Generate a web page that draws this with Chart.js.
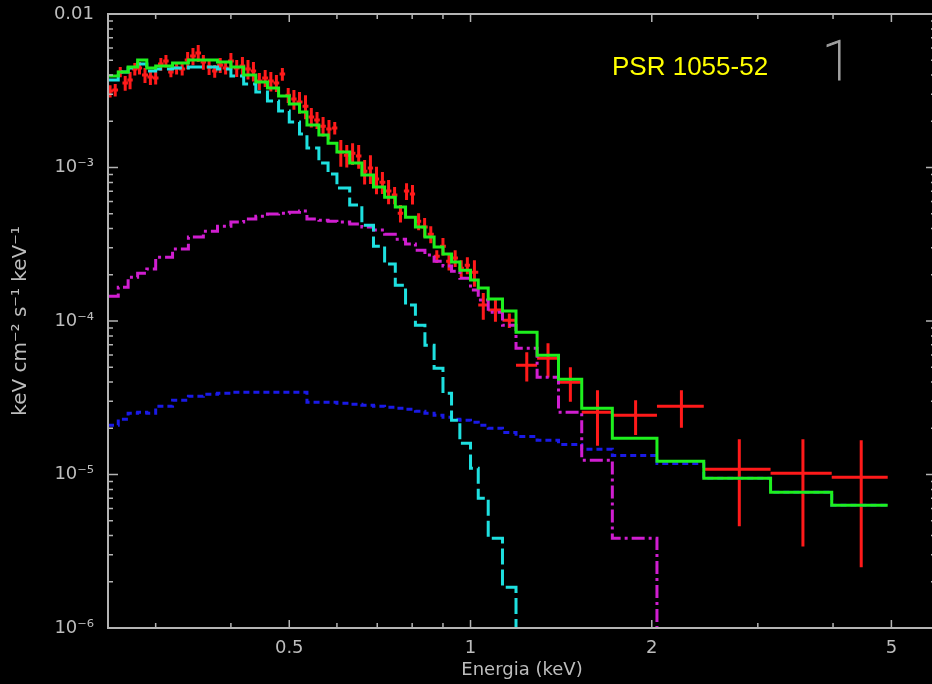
<!DOCTYPE html>
<html>
<head>
<meta charset="utf-8">
<title>PSR 1055-52</title>
<script src="https://cdn.jsdelivr.net/npm/chart.js@4.4.1/dist/chart.umd.min.js"></script>
<style>
    html, body { margin: 0; padding: 0; background: #000; overflow: hidden; }
    #wrap { width: 940px; height: 684px; }
    canvas { background: #000; }
</style>
</head>
<body>
<div id="wrap"><canvas id="spectrum" width="940" height="684"></canvas></div>
<script>
// PSR 1055-52 spectrum: data (red crosses) + model components, keV cm^-2 s^-1 keV^-1

// Data bins: centre energy (keV), half width, flux, 1-sigma error
const dataEnergy = [
    0.252, 0.257, 0.262, 0.267, 0.272, 0.277, 0.282, 0.288, 0.294, 0.300,
    0.306, 0.312, 0.318, 0.325, 0.332, 0.339, 0.346, 0.353, 0.360, 0.368,
    0.376, 0.384, 0.392, 0.400, 0.409, 0.418, 0.427, 0.436, 0.446, 0.456,
    0.466, 0.476, 0.487, 0.498, 0.509, 0.520, 0.532, 0.544, 0.556, 0.569,
    0.582, 0.595, 0.609, 0.623, 0.637, 0.652, 0.667, 0.682, 0.698, 0.714,
    0.731, 0.748, 0.765, 0.783, 0.801, 0.820, 0.839, 0.859, 0.879, 0.900,
    0.921, 0.943, 0.965, 0.988, 1.015, 1.05, 1.10, 1.16, 1.24, 1.345,
    1.465, 1.625, 1.88, 2.24, 2.795, 3.565, 4.455
];
const dataHalfWidth = [
    0.0028, 0.0028, 0.0028, 0.0028, 0.0028, 0.0028, 0.0028, 0.0033, 0.0033, 0.0033,
    0.0033, 0.0033, 0.0033, 0.0033, 0.0038, 0.0038, 0.0038, 0.0038, 0.0038, 0.0038,
    0.0038, 0.0045, 0.0045, 0.0045, 0.0045, 0.0045, 0.0045, 0.0045, 0.0052, 0.0052,
    0.0052, 0.0052, 0.0052, 0.0052, 0.0052, 0.006, 0.006, 0.006, 0.006, 0.006,
    0.006, 0.006, 0.007, 0.007, 0.007, 0.007, 0.007, 0.007, 0.007, 0.008,
    0.008, 0.008, 0.008, 0.008, 0.008, 0.008, 0.010, 0.010, 0.010, 0.010,
    0.010, 0.010, 0.010, 0.010, 0.015, 0.02, 0.03, 0.03, 0.05, 0.055,
    0.065, 0.095, 0.16, 0.20, 0.355, 0.415, 0.475
];
const dataFlux = [
    3.15e-3, 3.20e-3, 4.19e-3, 3.55e-3, 3.71e-3, 4.38e-3, 4.45e-3, 4.00e-3, 3.88e-3, 3.83e-3,
    4.72e-3, 4.94e-3, 4.19e-3, 4.45e-3, 4.38e-3, 5.01e-3, 5.32e-3, 5.57e-3, 4.87e-3, 4.51e-3,
    4.25e-3, 4.65e-3, 4.45e-3, 4.94e-3, 4.45e-3, 4.58e-3, 4.38e-3, 4.25e-3, 3.66e-3, 3.83e-3,
    3.66e-3, 3.55e-3, 4.06e-3, 2.96e-3, 2.79e-3, 2.67e-3, 2.51e-3, 2.13e-3, 2.04e-3, 1.86e-3,
    1.78e-3, 1.81e-3, 1.26e-3, 1.20e-3, 1.24e-3, 1.19e-3, 9.47e-4, 9.91e-4, 8.40e-4, 8.03e-4,
    7.02e-4, 6.61e-4, 5.04e-4, 7.02e-4, 6.71e-4, 4.47e-4, 4.09e-4, 3.68e-4, 2.64e-4, 3.07e-4,
    2.45e-4, 2.57e-4, 2.21e-4, 2.31e-4, 2.08e-4, 1.27e-4, 1.18e-4, 1.01e-4, 5.15e-5, 5.72e-5,
    3.99e-5, 2.54e-5, 2.43e-5, 2.78e-5, 1.08e-5, 1.02e-5, 9.59e-6
];
const dataError = [
    0.29e-3, 0.30e-3, 0.32e-3, 0.39e-3, 0.48e-3, 0.41e-3, 0.42e-3, 0.45e-3, 0.43e-3, 0.36e-3,
    0.45e-3, 0.46e-3, 0.32e-3, 0.42e-3, 0.41e-3, 0.64e-3, 0.68e-3, 0.71e-3, 0.53e-3, 0.50e-3,
    0.40e-3, 0.52e-3, 0.42e-3, 0.63e-3, 0.56e-3, 0.67e-3, 0.63e-3, 0.62e-3, 0.46e-3, 0.48e-3,
    0.53e-3, 0.45e-3, 0.39e-3, 0.33e-3, 0.41e-3, 0.43e-3, 0.45e-3, 0.31e-3, 0.26e-3, 0.27e-3,
    0.26e-3, 0.17e-3, 0.25e-3, 0.20e-3, 0.20e-3, 0.21e-3, 1.73e-4, 2.1e-4, 1.7e-4, 1.3e-4,
    1.26e-4, 0.84e-4, 0.65e-4, 0.89e-4, 0.97e-4, 0.57e-4, 0.59e-4, 0.47e-4, 0.25e-4, 0.40e-4,
    0.32e-4, 0.32e-4, 0.28e-4, 0.29e-4, 0.41e-4, 0.25e-4, 0.19e-4, 0.11e-4, 1.11e-5, 1.44e-5,
    1.01e-5, 1.0e-5, 0.62e-5, 0.76e-5, 0.62e-5, 0.68e-5, 0.71e-5
];

// Model bin edges (keV); each model holds one value per bin
const modelEdges = [
    0.25, 0.26, 0.27, 0.28, 0.29, 0.30, 0.32, 0.34, 0.36, 0.38,
    0.40, 0.42, 0.44, 0.46, 0.48, 0.50, 0.52, 0.535, 0.56, 0.58,
    0.60, 0.63, 0.66, 0.69, 0.72, 0.75, 0.78, 0.81, 0.84, 0.87,
    0.90, 0.93, 0.96, 1.00, 1.03, 1.07, 1.13, 1.19, 1.29, 1.40,
    1.53, 1.72, 2.04, 2.44, 3.15, 3.98, 4.93
];
const totalModel = [
    3.94e-3, 4.19e-3, 4.51e-3, 5.01e-3, 4.45e-3, 4.58e-3, 4.79e-3, 5.01e-3, 5.01e-3, 4.87e-3,
    4.51e-3, 4.00e-3, 3.60e-3, 3.29e-3, 2.92e-3, 2.59e-3, 2.30e-3, 1.89e-3, 1.63e-3, 1.44e-3,
    1.26e-3, 1.07e-3, 8.92e-4, 7.45e-4, 6.41e-4, 5.52e-4, 4.75e-4, 4.09e-4, 3.52e-4, 3.03e-4,
    2.73e-4, 2.42e-4, 2.14e-4, 1.85e-4, 1.64e-4, 1.39e-4, 1.16e-4, 8.45e-5, 5.98e-5, 4.17e-5,
    2.70e-5, 1.72e-5, 1.22e-5, 9.44e-6, 7.66e-6, 6.30e-6
];
// soft blackbody, falls off the plot at 1.19 keV
const softModel = [
    3.71e-3, 4.19e-3, 4.45e-3, 4.72e-3, 4.25e-3, 4.38e-3, 4.45e-3, 4.51e-3, 4.51e-3, 4.38e-3,
    3.94e-3, 3.50e-3, 3.10e-3, 2.71e-3, 2.33e-3, 1.98e-3, 1.65e-3, 1.34e-3, 1.07e-3, 9.06e-4,
    7.34e-4, 5.69e-4, 4.21e-4, 3.07e-4, 2.35e-4, 1.71e-4, 1.27e-4, 9.39e-5, 6.95e-5, 4.92e-5,
    3.38e-5, 2.26e-5, 1.60e-5, 1.10e-5, 7.00e-6, 3.84e-6, 1.84e-6
];
// hotter component, falls off the plot at 2.04 keV
const hardModel = [
    1.45e-4, 1.66e-4, 1.93e-4, 2.05e-4, 2.18e-4, 2.60e-4, 2.94e-4, 3.52e-4, 3.85e-4, 4.15e-4,
    4.41e-4, 4.61e-4, 4.82e-4, 4.97e-4, 5.04e-4, 5.12e-4, 5.20e-4, 4.61e-4, 4.54e-4, 4.47e-4,
    4.41e-4, 4.28e-4, 4.09e-4, 3.91e-4, 3.68e-4, 3.41e-4, 3.17e-4, 2.89e-4, 2.69e-4, 2.45e-4,
    2.28e-4, 2.11e-4, 1.90e-4, 1.59e-4, 1.37e-4, 1.14e-4, 9.39e-5, 6.65e-5, 4.30e-5, 2.54e-5,
    1.24e-5, 3.84e-6
];
const powerLawModel = [
    2.09e-5, 2.29e-5, 2.51e-5, 2.54e-5, 2.51e-5, 2.78e-5, 3.05e-5, 3.23e-5, 3.33e-5, 3.38e-5,
    3.43e-5, 3.43e-5, 3.43e-5, 3.43e-5, 3.43e-5, 3.43e-5, 3.43e-5, 2.96e-5, 2.96e-5, 2.96e-5,
    2.91e-5, 2.87e-5, 2.83e-5, 2.78e-5, 2.74e-5, 2.70e-5, 2.66e-5, 2.58e-5, 2.51e-5, 2.43e-5,
    2.36e-5, 2.29e-5, 2.26e-5, 2.19e-5, 2.09e-5, 2.00e-5, 1.88e-5, 1.77e-5, 1.67e-5, 1.57e-5,
    1.46e-5, 1.33e-5, 1.18e-5, 9.44e-6, 7.66e-6, 6.30e-6
];

// Axes
const xTickValues = [0.3, 0.4, 0.5, 0.6, 0.7, 0.8, 0.9, 1, 2, 3, 4, 5];
const xMajorTicks = [0.5, 1, 2, 5];
const xMajorLabels = ['0.5', '1', '2', '5'];
const yMajorTicks = [1e-6, 1e-5, 1e-4, 1e-3, 1e-2];
const yMajorLabels = ['10⁻⁶', '10⁻⁵', '10⁻⁴', '10⁻³', '0.01'];
const yMinorSteps = [2, 3, 4, 5, 6, 7, 8, 9];

const X_MIN = 0.25, X_MAX = 5.93;
const Y_MIN = 1e-6, Y_MAX = 1e-2;

const COLORS = {
    axis: '#b4b4b4',
    text: '#bdbdbd',
    data: '#ff1a1a',
    total: '#1ef01e',
    soft: '#1ee0e0',
    hard: '#d01ed0',
    powerLaw: '#1a1ae6',
    title: '#ffff00',
    panel: '#a0a0a0'
};
const FONT = 'DejaVu Sans';

// minor y ticks between decades
const yTickValues = [...yMajorTicks];
yMajorTicks.slice(0, -1).forEach(d => yMinorSteps.forEach(m => yTickValues.push(d * m)));
yTickValues.sort((a, b) => a - b);

// crosses: horizontal bin bar + vertical error bar, split with null gaps
const errorBarPoints = () => {
    const pts = [];
    dataEnergy.forEach((e, i) => {
        const f = dataFlux[i], w = dataHalfWidth[i], s = dataError[i];
        pts.push({ x: e - w, y: f }, { x: e + w, y: f }, { x: e, y: null });
        pts.push({ x: e, y: f - s }, { x: e, y: f + s }, { x: e, y: null });
    });
    return pts;
};

// histogram steps on modelEdges; cutOff drops the line below the axis
const stepPoints = (values, cutOff) => {
    const pts = values.map((v, i) => ({ x: modelEdges[i], y: v }));
    pts.push({ x: modelEdges[values.length], y: cutOff ? Y_MIN / 10 : values[values.length - 1] });
    return pts;
};

const findLabel = (value, ticks, labels) => {
    const i = ticks.findIndex(t => Math.abs(t - value) / t < 1e-6);
    return i >= 0 ? labels[i] : '';
};

// closed frame with inward tick marks on all four sides
const frameTicks = {
    id: 'frameTicks',
    afterDatasetsDraw(chart) {
        const { ctx, chartArea: a, scales: { x, y } } = chart;
        ctx.save();
        ctx.strokeStyle = COLORS.axis;
        ctx.lineWidth = 2;
        ctx.strokeRect(a.left, a.top, a.right - a.left, a.bottom - a.top);
        ctx.lineWidth = 1.5;
        ctx.beginPath();
        x.ticks.forEach(t => {
            const px = x.getPixelForValue(t.value);
            const len = findLabel(t.value, xMajorTicks, xMajorLabels) ? 8 : 5;
            ctx.moveTo(px, a.bottom); ctx.lineTo(px, a.bottom - len);
            ctx.moveTo(px, a.top); ctx.lineTo(px, a.top + len);
        });
        y.ticks.forEach(t => {
            const py = y.getPixelForValue(t.value);
            const len = findLabel(t.value, yMajorTicks, yMajorLabels) ? 10 : 5;
            ctx.moveTo(a.left, py); ctx.lineTo(a.left + len, py);
            ctx.moveTo(a.right, py); ctx.lineTo(a.right - len, py);
        });
        ctx.stroke();
        ctx.restore();
    }
};

// source name and panel number
const annotations = {
    id: 'annotations',
    afterDraw(chart) {
        const { ctx } = chart;
        ctx.save();
        ctx.textBaseline = 'alphabetic';
        ctx.textAlign = 'left';
        ctx.fillStyle = COLORS.title;
        ctx.font = '26px "Liberation Sans", Arial, sans-serif';
        ctx.fillText('PSR 1055-52', 612, 75);
        // thin panel number
        ctx.fillStyle = COLORS.panel;
        ctx.strokeStyle = COLORS.panel;
        ctx.lineWidth = 1;
        ctx.font = '100 56px Roboto, sans-serif';
        ctx.fillText('1', 822, 80);
        ctx.strokeText('1', 822, 80);
        ctx.restore();
    }
};

const lineBase = { pointRadius: 0, pointHoverRadius: 0, fill: false, tension: 0 };

new Chart(document.getElementById('spectrum'), {
    type: 'line',
    data: {
        datasets: [
            { ...lineBase, label: 'Data', data: errorBarPoints(), borderColor: COLORS.data,
              borderWidth: 3, spanGaps: false, order: 5 },
            { ...lineBase, label: 'Power law', data: stepPoints(powerLawModel, false),
              borderColor: COLORS.powerLaw, borderWidth: 3, borderDash: [6, 4], stepped: true, order: 4 },
            { ...lineBase, label: 'Hard', data: stepPoints(hardModel, true),
              borderColor: COLORS.hard, borderWidth: 3, borderDash: [13, 4, 3, 4], stepped: true, order: 3 },
            { ...lineBase, label: 'Soft', data: stepPoints(softModel, true),
              borderColor: COLORS.soft, borderWidth: 3, borderDash: [16, 5], stepped: true, order: 2 },
            { ...lineBase, label: 'Total', data: stepPoints(totalModel, false),
              borderColor: COLORS.total, borderWidth: 3, stepped: true, order: 1 }
        ]
    },
    options: {
        responsive: false,
        animation: false,
        devicePixelRatio: 1,
        layout: { padding: { top: 14, right: 4, left: 0, bottom: 0 } },
        plugins: {
            legend: { display: false },
            tooltip: { enabled: false }
        },
        events: [],
        scales: {
            x: {
                type: 'logarithmic',
                min: X_MIN,
                max: X_MAX,
                grid: { display: false, drawTicks: false },
                border: { display: false },
                afterBuildTicks: (scale) => { scale.ticks = xTickValues.map(v => ({ value: v })); },
                afterFit: (scale) => {
                    scale.height = 56;
                    scale.paddingLeft = 0;
                    scale.paddingRight = 0;
                },
                ticks: {
                    autoSkip: false,
                    maxRotation: 0,
                    padding: 10,
                    color: COLORS.text,
                    font: { family: FONT, size: 18 },
                    callback: (value) => findLabel(value, xMajorTicks, xMajorLabels)
                },
                title: {
                    display: true,
                    text: 'Energia (keV)',
                    color: COLORS.text,
                    font: { family: FONT, size: 18 },
                    padding: { top: 0, bottom: 3 }
                }
            },
            y: {
                type: 'logarithmic',
                min: Y_MIN,
                max: Y_MAX,
                grid: { display: false, drawTicks: false },
                border: { display: false },
                afterBuildTicks: (scale) => { scale.ticks = yTickValues.map(v => ({ value: v })); },
                afterFit: (scale) => {
                    scale.width = 108;
                    scale.paddingTop = 0;
                    scale.paddingBottom = 0;
                },
                ticks: {
                    autoSkip: false,
                    padding: 14,
                    color: COLORS.text,
                    font: { family: FONT, size: 18 },
                    callback: (value) => findLabel(value, yMajorTicks, yMajorLabels)
                },
                title: {
                    display: true,
                    text: 'keV cm⁻² s⁻¹ keV⁻¹',
                    color: COLORS.text,
                    font: { family: FONT, size: 20 },
                    padding: { top: 9, bottom: 0 }
                }
            }
        }
    },
    plugins: [frameTicks, annotations]
});
</script>
</body>
</html>
